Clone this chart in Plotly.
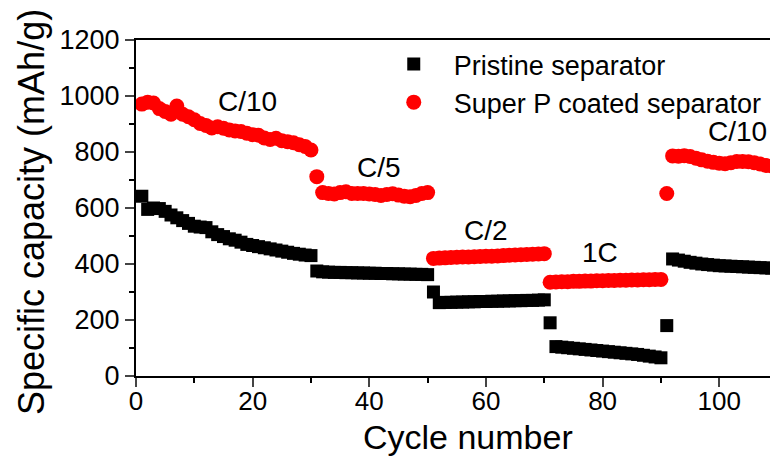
import plotly.graph_objects as go

# ---- data ----
cycles = list(range(1, 110))

pristine = [
    # C/10 (1-30)
    642, 595, 600, 598, 588, 575, 565, 555, 545, 535, 532, 530, 515, 505, 498,
    490, 485, 478, 470, 466, 462, 458, 454, 450, 446, 442, 438, 435, 432, 430,
    # C/5 (31-50)
    375, 372, 371, 370, 370, 369, 369, 368, 368, 367, 367, 366, 366, 365, 365,
    364, 364, 363, 363, 362,
    # C/2 (51-70)
    300, 262, 263, 263, 264, 264, 265, 265, 266, 266, 267, 267, 268, 268, 269,
    269, 270, 270, 271, 272,
    # 1C (71-90)
    190, 105, 103, 101, 99, 97, 95, 93, 91, 89, 87, 85, 83, 81, 79, 77, 74, 71,
    68, 65,
    # C/10 (91-109)
    180, 418, 414, 410, 406, 403, 400, 398, 396, 394, 393, 392, 391, 390, 389,
    388, 387, 386, 385,
]

superp = [
    # C/10 (1-30)
    971, 978, 975, 955, 945, 935, 964, 935, 926, 915, 902, 895, 886, 890, 885,
    879, 875, 873, 867, 862, 860, 850, 845, 849, 840, 837, 833, 826, 820, 807,
    # C/5 (31-50)
    712, 655, 652, 650, 655, 658, 652, 652, 652, 650, 648, 645, 648, 651, 646,
    642, 640, 645, 652, 655,
    # C/2 (51-70)
    420, 421, 422, 423, 424, 425, 425, 426, 427, 428, 428, 429, 430, 431, 432,
    433, 434, 435, 436, 437,
    # 1C (71-90)
    335, 336, 337, 337, 338, 338, 339, 339, 340, 340, 341, 341, 342, 342, 343,
    343, 344, 344, 345, 345,
    # C/10 (91-109)
    652, 786, 785, 787, 784, 778, 772, 767, 763, 760, 758, 762, 766, 766, 765,
    762, 757, 752, 750,
]

rate_labels = ["C/10", "C/5", "C/2", "1C", "C/10"]
rate_label_x = [19.1, 41.6, 60.0, 79.6, 103.2]
rate_label_y = [982, 745, 518, 441, 875]

x_ticks = [0, 20, 40, 60, 80, 100]
y_ticks = [0, 200, 400, 600, 800, 1000, 1200]

FONT = "Liberation Sans, Arial, sans-serif"

fig = go.Figure()
fig.add_trace(go.Scatter(
    x=cycles, y=pristine, mode="markers", name="Pristine separator",
    marker=dict(symbol="square", size=13, color="#000000", line=dict(width=0)),
))
fig.add_trace(go.Scatter(
    x=cycles, y=superp, mode="markers", name="Super P coated separator",
    marker=dict(symbol="circle", size=15, color="#ff0000", line=dict(width=0)),
))

for t, xv, yv in zip(rate_labels, rate_label_x, rate_label_y):
    fig.add_annotation(x=xv, y=yv, text=t, showarrow=False,
                       font=dict(family=FONT, size=28, color="#000000"),
                       xanchor="center", yanchor="middle")

# axis titles
fig.add_annotation(xref="paper", yref="paper", x=(468 - 136) / 634, y=(376 - 437) / 336,
                   text="Cycle number", showarrow=False,
                   font=dict(family=FONT, size=34, color="#000000"),
                   xanchor="center", yanchor="middle")
fig.add_annotation(xref="paper", yref="paper", x=(31 - 136) / 634, y=(376 - 212) / 336,
                   text="Specific capacity (mAh/g)", showarrow=False, textangle=-90,
                   font=dict(family=FONT, size=36, color="#000000"),
                   xanchor="center", yanchor="middle")

fig.update_layout(
    width=770, height=457,
    margin=dict(l=136, r=0, t=40, b=81, pad=0),
    paper_bgcolor="white", plot_bgcolor="white",
    font=dict(family=FONT, color="#000000"),
    showlegend=True,
    legend=dict(x=0.375, y=1.0, xanchor="left", yanchor="top",
                font=dict(family=FONT, size=27, color="#000000"),
                bgcolor="rgba(0,0,0,0)", borderwidth=0, itemwidth=70,
                itemsizing="trace", tracegroupgap=0),
    xaxis=dict(range=[0, 108.7], tickvals=x_ticks, ticks="outside", ticklen=9,
               tickwidth=2, showline=True, linewidth=2, linecolor="#000000",
               mirror=True, showgrid=False, zeroline=False, ticklabelstandoff=-8,
               tickfont=dict(family=FONT, size=26, color="#000000"),
               minor=dict(dtick=10, tick0=0, ticks="outside", ticklen=5,
                          tickwidth=2, tickcolor="#000000", showgrid=False)),
    yaxis=dict(range=[0, 1200], tickvals=y_ticks, ticks="outside", ticklen=9,
               tickwidth=2, showline=True, linewidth=2, linecolor="#000000",
               mirror=False, showgrid=False, zeroline=False,
               tickfont=dict(family=FONT, size=27, color="#000000"),
               minor=dict(dtick=100, tick0=0, ticks="outside", ticklen=5,
                          tickwidth=2, tickcolor="#000000", showgrid=False)),
)

fig.write_html("out.html")
